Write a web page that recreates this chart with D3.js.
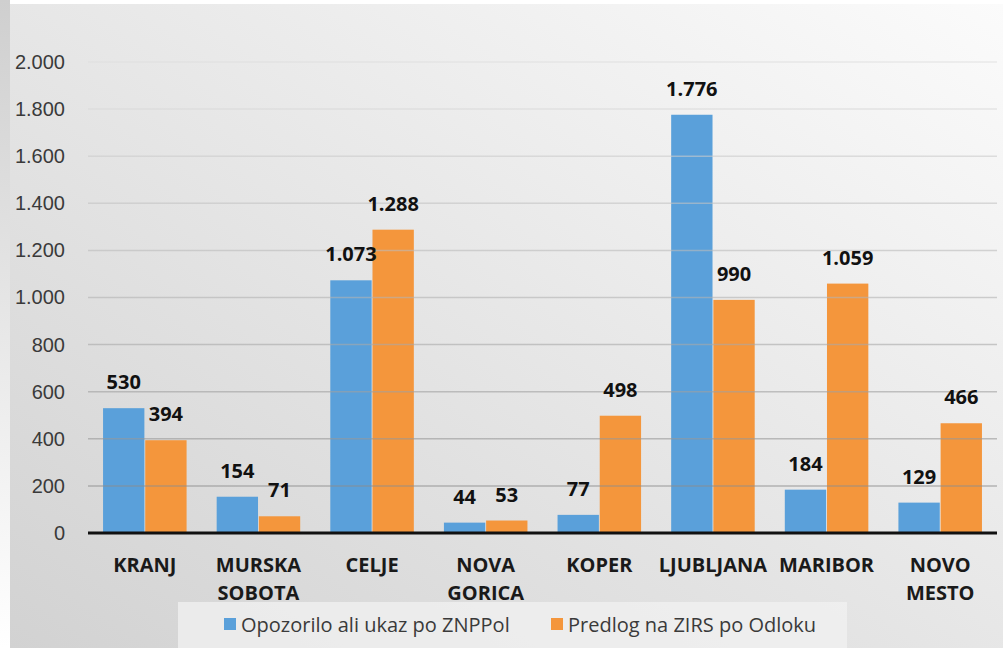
<!DOCTYPE html>
<html lang="sl">
<head>
<meta charset="UTF-8">
<title>Opozorila in predlogi po upravnih enotah</title>
<script src="https://cdn.jsdelivr.net/npm/d3@7"></script>
<style>
  html, body { margin: 0; padding: 0; background: #ffffff; }
  svg { display: block; font-family: "Open Sans", "DejaVu Sans", sans-serif; }
</style>
</head>
<body>
<div id="chart"></div>
<script>
// Podatki, odčitani s slike
const categories = [["KRANJ"], ["MURSKA", "SOBOTA"], ["CELJE"], ["NOVA", "GORICA"],
                    ["KOPER"], ["LJUBLJANA"], ["MARIBOR"], ["NOVO", "MESTO"]];
const seriesNames = ["Opozorilo ali ukaz po ZNPPol", "Predlog na ZIRS po Odloku"];
const opozorila = [530, 154, 1073, 44, 77, 1776, 184, 129];
const predlogi = [394, 71, 1288, 53, 498, 990, 1059, 466];
const yTicks = [0, 200, 400, 600, 800, 1000, 1200, 1400, 1600, 1800, 2000];

const width = 1003, height = 648;
const colors = ["#5aa0da", "#f4963c"];

const locale = d3.formatLocale({ decimal: ",", thousands: ".", grouping: [3], currency: ["", " €"] });
const fmt = locale.format(",d");

const svg = d3.select("#chart").append("svg")
    .attr("width", width)
    .attr("height", height);

// ozadje z rahlim prelivom
const defs = svg.append("defs");
const bg = defs.append("linearGradient").attr("id", "bg")
    .attr("x1", "100%").attr("y1", "0%").attr("x2", "0%").attr("y2", "100%");
bg.append("stop").attr("offset", "0%").attr("stop-color", "#fbfbfb");
bg.append("stop").attr("offset", "100%").attr("stop-color", "#d2d2d2");
const edge = defs.append("linearGradient").attr("id", "edge")
    .attr("x1", "0%").attr("y1", "0%").attr("x2", "0%").attr("y2", "100%");
edge.append("stop").attr("offset", "0%").attr("stop-color", "#cfcfcf");
edge.append("stop").attr("offset", "100%").attr("stop-color", "#ffffff");

svg.append("rect").attr("x", 0).attr("y", 0).attr("width", 10).attr("height", height)
    .attr("fill", "url(#edge)");
svg.append("rect").attr("x", 10).attr("y", 4).attr("width", width - 10).attr("height", height - 4)
    .attr("fill", "url(#bg)");

const plotLeft = 88, plotRight = 997, plotTop = 62, plotBottom = 533;

const x = d3.scaleBand()
    .domain(d3.range(categories.length))
    .range([plotLeft, plotRight])
    .paddingInner(0.25)
    .paddingOuter(0.125);

const xs = d3.scaleBand()
    .domain([0, 1])
    .range([0, x.bandwidth()])
    .padding(0.02);

const y = d3.scaleLinear()
    .domain([0, 2000])
    .range([plotBottom, plotTop]);

const gridColor = d3.scaleLinear().domain([0, 2000]).range(["#858585", "#dedede"]);

// oznake osi y
const yAxis = svg.append("g")
    .attr("transform", `translate(${plotLeft},0)`)
    .call(d3.axisLeft(y).tickValues(yTicks).tickFormat(fmt).tickSize(0).tickPadding(23));
yAxis.select(".domain").remove();
yAxis.selectAll("text")
    .attr("fill", "#3a3a3a")
    .style("font-size", "20px");

const series = [opozorila, predlogi];

svg.append("g").selectAll("g")
    .data(series)
    .join("g")
    .attr("fill", (d, i) => colors[i])
    .each(function (vals, si) {
        d3.select(this).selectAll("rect")
            .data(vals)
            .join("rect")
            .attr("x", (v, ci) => x(ci) + xs(si))
            .attr("y", v => y(v))
            .attr("width", xs.bandwidth())
            .attr("height", v => y(0) - y(v));
    });

// mreža čez stolpce (stolpci so v izvirniku prosojni)
svg.append("g").selectAll("line")
    .data(yTicks.filter(t => t > 0))
    .join("line")
    .attr("x1", plotLeft).attr("x2", plotRight)
    .attr("y1", d => y(d)).attr("y2", d => y(d))
    .attr("stroke", d => gridColor(d))
    .attr("stroke-opacity", 0.6)
    .attr("stroke-width", 1.5);

// os x
svg.append("line")
    .attr("x1", plotLeft).attr("x2", plotRight)
    .attr("y1", y(0)).attr("y2", y(0))
    .attr("stroke", "#111")
    .attr("stroke-width", 3);

// oznake vrednosti
svg.append("g").selectAll("g")
    .data(series)
    .join("g")
    .each(function (vals, si) {
        d3.select(this).selectAll("text")
            .data(vals)
            .join("text")
            .attr("x", (v, ci) => x(ci) + xs(si) + xs.bandwidth() / 2)
            .attr("y", v => y(v) - 19)
            .attr("text-anchor", "middle")
            .attr("fill", "#111")
            .style("font-size", "20px")
            .style("font-weight", "bold")
            .text(v => fmt(v));
    });

// kategorije
svg.append("g").selectAll("text")
    .data(categories)
    .join("text")
    .attr("x", (d, i) => x(i) + x.bandwidth() / 2)
    .attr("y", 572)
    .attr("text-anchor", "middle")
    .attr("fill", "#1a1a1a")
    .style("font-size", "20px")
    .style("font-weight", "bold")
    .each(function (lines) {
        const cx = d3.select(this).attr("x");
        d3.select(this).selectAll("tspan")
            .data(lines)
            .join("tspan")
            .attr("x", cx)
            .attr("dy", (l, i) => i === 0 ? 0 : 28)
            .text(l => l);
    });

// legenda
const legend = svg.append("g");
legend.append("rect")
    .attr("x", 178).attr("y", 602)
    .attr("width", 669).attr("height", 46)
    .attr("fill", "#f2f2f2")
    .attr("fill-opacity", 0.75);

const legendX = [224, 551];
const items = legend.selectAll("g")
    .data(seriesNames)
    .join("g")
    .attr("transform", (d, i) => `translate(${legendX[i]},618)`);
items.append("rect")
    .attr("width", 12).attr("height", 12)
    .attr("fill", (d, i) => colors[i]);
items.append("text")
    .attr("x", 17).attr("y", 14)
    .attr("fill", "#3a3a3a")
    .style("font-size", "20px")
    .text(d => d);
</script>
</body>
</html>
